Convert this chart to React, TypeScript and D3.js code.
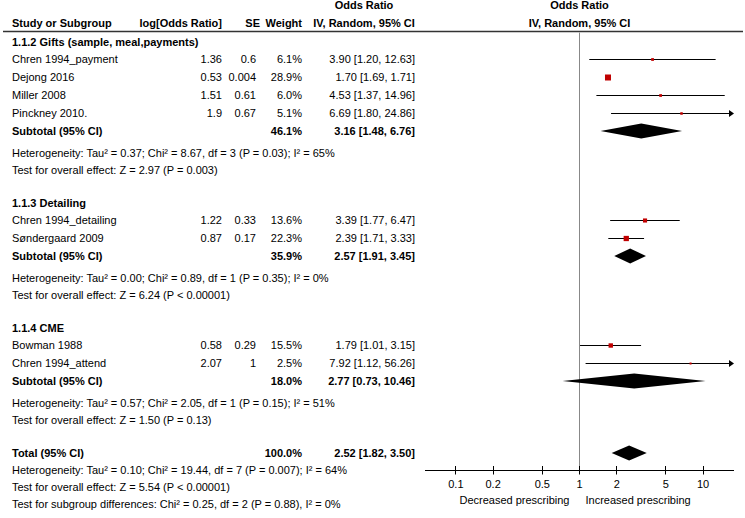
import React from "react";
import * as d3 from "d3";

// ---------- data ----------
const groupNames = ["1.1.2 Gifts (sample, meal,payments)", "1.1.3 Detailing", "1.1.4 CME"];
const studyNames = [
  "Chren 1994_payment", "Dejong 2016", "Miller 2008", "Pinckney 2010.",
  "Chren 1994_detailing", "Søndergaard 2009",
  "Bowman 1988", "Chren 1994_attend",
];
const studyGroup = [0, 0, 0, 0, 1, 1, 2, 2];
const logOR = [1.36, 0.53, 1.51, 1.9, 1.22, 0.87, 0.58, 2.07];
const seVals = [0.6, 0.004, 0.61, 0.67, 0.33, 0.17, 0.29, 1];
const weights = [6.1, 28.9, 6.0, 5.1, 13.6, 22.3, 15.5, 2.5];
const orVals = [3.90, 1.70, 4.53, 6.69, 3.39, 2.39, 1.79, 7.92];
const loVals = [1.20, 1.69, 1.37, 1.80, 1.77, 1.71, 1.01, 1.12];
const hiVals = [12.63, 1.71, 14.96, 24.86, 6.47, 3.33, 3.15, 56.26];

const subWeights = [46.1, 35.9, 18.0];
const subOR = [3.16, 2.57, 2.77];
const subLo = [1.48, 1.91, 0.73];
const subHi = [6.76, 3.45, 10.46];
const subHet = [
  "Heterogeneity: Tau² = 0.37; Chi² = 8.67, df = 3 (P = 0.03); I² = 65%",
  "Heterogeneity: Tau² = 0.00; Chi² = 0.89, df = 1 (P = 0.35); I² = 0%",
  "Heterogeneity: Tau² = 0.57; Chi² = 2.05, df = 1 (P = 0.15); I² = 51%",
];
const subTest = [
  "Test for overall effect: Z = 2.97 (P = 0.003)",
  "Test for overall effect: Z = 6.24 (P < 0.00001)",
  "Test for overall effect: Z = 1.50 (P = 0.13)",
];

const totalWeight = 100.0;
const totalOR = 2.52;
const totalLo = 1.82;
const totalHi = 3.50;
const totalLines = [
  "Heterogeneity: Tau² = 0.10; Chi² = 19.44, df = 7 (P = 0.007); I² = 64%",
  "Test for overall effect: Z = 5.54 (P < 0.00001)",
  "Test for subgroup differences: Chi² = 0.25, df = 2 (P = 0.88), I² = 0%",
];

const tickValues = [0.1, 0.2, 0.5, 1, 2, 5, 10];
const leftAxisLabel = "Decreased prescribing";
const rightAxisLabel = "Increased prescribing";

// ---------- layout ----------
const W = 745;
const H = 518;
const FONT = "'Liberation Sans', Arial, sans-serif";
const FS = 11;
const RED = "#c00000";

const xScale = d3.scaleLog().domain([Math.pow(10, -1.25), Math.pow(10, 1.25)]).range([425, 734]);
const sizeScale = d3.scaleSqrt().domain([0, 28.9]).range([0, 6]);

const colName = 12;
const colLog = 222;
const colSE = 256;
const colSEHead = 260;
const colW = 302;
const colCI = 415;
const colCIHeadMid = 364;
const axisY = 470.5;
const ruleY = 31.5;

const crisp = (v: number) => Math.round(v) + 0.5;
const fmtCI = (o: number, l: number, h: number) => `${o.toFixed(2)} [${l.toFixed(2)}, ${h.toFixed(2)}]`;

type Row = { kind: string; y: number; idx: number };

function buildRows(): Row[] {
  const rows: Row[] = [];
  let y = 42;
  groupNames.forEach((_, g) => {
    rows.push({ kind: "group", y, idx: g });
    const ids = studyGroup.map((sg, i) => (sg === g ? i : -1)).filter((i) => i >= 0);
    let sy = y + 17;
    ids.forEach((i, k) => {
      rows.push({ kind: "study", y: sy, idx: i });
      if (k < ids.length - 1) sy += 18;
    });
    const subY = sy + 17.5;
    rows.push({ kind: "subtotal", y: subY, idx: g });
    rows.push({ kind: "het", y: subY + 22, idx: g });
    rows.push({ kind: "test", y: subY + 39.5, idx: g });
    y = subY + 39.5 + 33;
  });
  rows.push({ kind: "total", y, idx: 0 });
  totalLines.forEach((_, i) => rows.push({ kind: "totalline", y: y + 17 + i * 17, idx: i }));
  return rows;
}

function Diamond({ o, l, h, y }: { o: number; l: number; h: number; y: number }) {
  const hh = 7.5;
  const cy = Math.round(y);
  const pts = [
    [xScale(l), cy],
    [xScale(o), cy - hh],
    [xScale(h), cy],
    [xScale(o), cy + hh],
  ];
  return <polygon points={pts.map((p) => p.join(",")).join(" ")} fill="#000" />;
}

function StudyMark({ i, y }: { i: number; y: number }) {
  const [xmin, xmax] = xScale.range();
  const ly = crisp(y);
  const x1 = Math.max(xmin, xScale(loVals[i]));
  const overR = hiVals[i] > xScale.domain()[1];
  const x2 = overR ? xmax : xScale(hiVals[i]);
  const s = Math.max(2, sizeScale(weights[i]));
  const cx = xScale(orVals[i]);
  return (
    <g>
      <line x1={x1} x2={overR ? x2 - 4 : x2} y1={ly} y2={ly} stroke="#000" strokeWidth={1} />
      {overR && <polygon points={`${x2 - 5},${ly - 3.5} ${x2},${ly} ${x2 - 5},${ly + 3.5}`} fill="#000" />}
      <rect x={cx - s / 2} y={ly - s / 2} width={s} height={s} fill={RED} />
    </g>
  );
}

export default function App() {
  const rows = buildRows();
  const base = (y: number) => y + 4;
  const x1 = crisp(xScale(1) - 0.5);

  return (
    <svg
      width={W}
      height={H}
      viewBox={`0 0 ${W} ${H}`}
      style={{ position: "absolute", left: 0, top: 0, background: "#fff" }}
      fontFamily={FONT}
      fontSize={FS}
    >
      <rect x={0} y={0} width={W} height={H} fill="#fff" />
      {/* Header */}
      <g fontWeight="bold" fill="#000">
        <text x={colCIHeadMid} y={9} textAnchor="middle">Odds Ratio</text>
        <text x={x1} y={9} textAnchor="middle">Odds Ratio</text>
        <text x={colName} y={27}>Study or Subgroup</text>
        <text x={colLog} y={27} textAnchor="end">log[Odds Ratio]</text>
        <text x={colSEHead} y={27} textAnchor="end">SE</text>
        <text x={colW} y={27} textAnchor="end">Weight</text>
        <text x={colCIHeadMid} y={27} textAnchor="middle">IV, Random, 95% CI</text>
        <text x={x1} y={27} textAnchor="middle">IV, Random, 95% CI</text>
      </g>
      <line x1={3} x2={743} y1={ruleY} y2={ruleY} stroke="#333" strokeWidth={1.5} />

      {/* null line */}
      <line x1={x1} x2={x1} y1={ruleY + 1} y2={axisY} stroke="#888" strokeWidth={1} />

      {rows.map((r, k) => {
        const by = base(r.y);
        if (r.kind === "group") {
          return (
            <text key={k} x={colName} y={by} fontWeight="bold">{groupNames[r.idx]}</text>
          );
        }
        if (r.kind === "study") {
          const i = r.idx;
          return (
            <g key={k}>
              <text x={colName} y={by}>{studyNames[i]}</text>
              <text x={colLog} y={by} textAnchor="end">{String(logOR[i])}</text>
              <text x={colSE} y={by} textAnchor="end">{String(seVals[i])}</text>
              <text x={colW} y={by} textAnchor="end">{weights[i].toFixed(1) + "%"}</text>
              <text x={colCI} y={by} textAnchor="end">{fmtCI(orVals[i], loVals[i], hiVals[i])}</text>
              <StudyMark i={i} y={r.y} />
            </g>
          );
        }
        if (r.kind === "subtotal") {
          const g = r.idx;
          return (
            <g key={k}>
              <g fontWeight="bold">
                <text x={colName} y={by}>Subtotal (95% CI)</text>
                <text x={colW} y={by} textAnchor="end">{subWeights[g].toFixed(1) + "%"}</text>
                <text x={colCI} y={by} textAnchor="end">{fmtCI(subOR[g], subLo[g], subHi[g])}</text>
              </g>
              <Diamond o={subOR[g]} l={subLo[g]} h={subHi[g]} y={r.y} />
            </g>
          );
        }
        if (r.kind === "het") return <text key={k} x={colName} y={by}>{subHet[r.idx]}</text>;
        if (r.kind === "test") return <text key={k} x={colName} y={by}>{subTest[r.idx]}</text>;
        if (r.kind === "total") {
          return (
            <g key={k}>
              <g fontWeight="bold">
                <text x={colName} y={by}>Total (95% CI)</text>
                <text x={colW} y={by} textAnchor="end">{totalWeight.toFixed(1) + "%"}</text>
                <text x={colCI} y={by} textAnchor="end">{fmtCI(totalOR, totalLo, totalHi)}</text>
              </g>
              <Diamond o={totalOR} l={totalLo} h={totalHi} y={r.y} />
            </g>
          );
        }
        if (r.kind === "totalline") return <text key={k} x={colName} y={by}>{totalLines[r.idx]}</text>;
        return null;
      })}

      {/* axis */}
      <line x1={xScale.range()[0]} x2={xScale.range()[1]} y1={axisY} y2={axisY} stroke="#000" strokeWidth={1} />
      {tickValues.map((t) => (
        <g key={t}>
          <line x1={crisp(xScale(t) - 0.5)} x2={crisp(xScale(t) - 0.5)} y1={axisY - 4.5} y2={axisY + 4} stroke="#000" strokeWidth={1} />
          <text x={xScale(t)} y={axisY + 17} textAnchor="middle">{String(t)}</text>
        </g>
      ))}
      <text x={x1 - 10} y={axisY + 33} textAnchor="end">{leftAxisLabel}</text>
      <text x={x1 + 6} y={axisY + 33}>{rightAxisLabel}</text>
    </svg>
  );
}
